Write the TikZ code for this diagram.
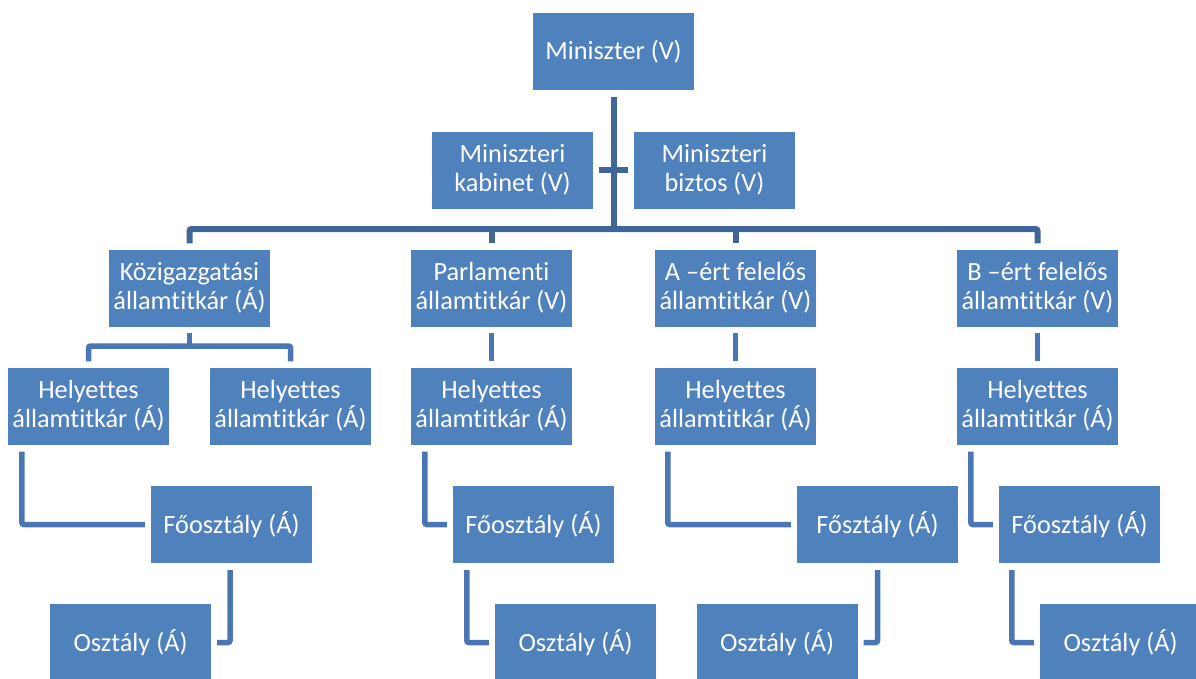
\documentclass[tikz,border=0pt]{standalone}
\usepackage{fontspec}
\setmainfont{Carlito}[Ligatures=NoCommon]
\definecolor{boxfill}{HTML}{4F81BD}
\definecolor{topline}{HTML}{3F6698}
\definecolor{lowline}{HTML}{4A77B3}
\tikzset{
  orgbox/.style={fill=boxfill, draw=none, minimum width=161pt, minimum height=77pt,
    text=white, align=center, inner sep=0pt, font=\fontsize{26.3}{29}\selectfont},
  topconn/.style={draw=topline, line width=6pt, rounded corners=2pt},
  lowconn/.style={draw=lowline, line width=5.5pt, rounded corners=2pt}
}
\begin{document}
\begin{tikzpicture}[x=1pt,y=-1pt]
\clip (0,0) rectangle (1196,678);
\useasboundingbox (0,0) rectangle (1196,678);
% level 0/1
\node[orgbox] (min) at (613.5,51.5) {Miniszter (V)};
\node[orgbox] (kab) at (512.5,170) {Miniszteri\\kabinet (V)};
\node[orgbox] (biz) at (714.5,170) {Miniszteri\\biztos (V)};
% level 2
\node[orgbox] (k1) at (189.5,288) {Közigazgatási\\államtitkár (Á)};
\node[orgbox] (k2) at (491.5,288) {Parlamenti\\államtitkár (V)};
\node[orgbox] (k3) at (735.5,288) {A –ért felelős\\államtitkár (V)};
\node[orgbox] (k4) at (1037.5,288) {B –ért felelős\\államtitkár (V)};
% level 3
\node[orgbox] (h1a) at (88.5,406) {Helyettes\\államtitkár (Á)};
\node[orgbox] (h1b) at (290.5,406) {Helyettes\\államtitkár (Á)};
\node[orgbox] (h2) at (491.5,406) {Helyettes\\államtitkár (Á)};
\node[orgbox] (h3) at (735.5,406) {Helyettes\\államtitkár (Á)};
\node[orgbox] (h4) at (1037.5,406) {Helyettes\\államtitkár (Á)};
% level 4
\node[orgbox] (f1) at (231.5,524.5) {Főosztály (Á)};
\node[orgbox] (f2) at (533.5,524.5) {Főosztály (Á)};
\node[orgbox] (f3) at (877.5,524.5) {Fősztály (Á)};
\node[orgbox] (f4) at (1079.5,524.5) {Főosztály (Á)};
% level 5
\node[orgbox] (o1) at (130.5,642.5) {Osztály (Á)};
\node[orgbox] (o2) at (575.5,642.5) {Osztály (Á)};
\node[orgbox] (o3) at (777,642.5) {Osztály (Á)};
\node[orgbox] (o4) at (1120.5,642.5) {Osztály (Á)};
% coordinates
\coordinate (bus) at (613.5,229);
\coordinate (br) at (189.5,346);
% top connectors
\draw[topconn] ([yshift=-7pt]min.south) -- (min.south |- bus);
\draw[topconn] ([xshift=6pt]kab.east) -- ([xshift=-6pt]biz.west);
\draw[topconn] ([yshift=6pt]k1.north) |- (bus) -| ([yshift=6pt]k4.north);
\draw[topconn] ([yshift=6pt]k2.north) -- (k2.north |- bus);
\draw[topconn] ([yshift=6pt]k3.north) -- (k3.north |- bus);
% level 2 -> 3
\draw[lowconn] ([yshift=-6pt]k1.south) -- (br);
\draw[lowconn] ([yshift=6pt]h1a.north) |- (br) -| ([yshift=6pt]h1b.north);
\draw[lowconn] ([yshift=-6pt]k2.south) -- ([yshift=6pt]h2.north);
\draw[lowconn] ([yshift=-6pt]k3.south) -- ([yshift=6pt]h3.north);
\draw[lowconn] ([yshift=-6pt]k4.south) -- ([yshift=6pt]h4.north);
% level 3 -> 4
\draw[lowconn] ([xshift=14pt,yshift=-7pt]h1a.south west) |- ([xshift=-6pt]f1.west);
\draw[lowconn] ([xshift=14pt,yshift=-7pt]h2.south west) |- ([xshift=-6pt]f2.west);
\draw[lowconn] ([xshift=13pt,yshift=-7pt]h3.south west) |- ([xshift=-6pt]f3.west);
\draw[lowconn] ([xshift=14pt,yshift=-7pt]h4.south west) |- ([xshift=-6pt]f4.west);
% level 4 -> 5
\draw[lowconn] ([xshift=-1.5pt,yshift=-7pt]f1.south) |- ([xshift=6pt]o1.east);
\draw[lowconn] ([xshift=14pt,yshift=-7pt]f2.south west) |- ([xshift=-6pt]o2.west);
\draw[lowconn] ([yshift=-7pt]f3.south) |- ([xshift=6pt]o3.east);
\draw[lowconn] ([xshift=13pt,yshift=-7pt]f4.south west) |- ([xshift=-6pt]o4.west);
\end{tikzpicture}
\end{document}
